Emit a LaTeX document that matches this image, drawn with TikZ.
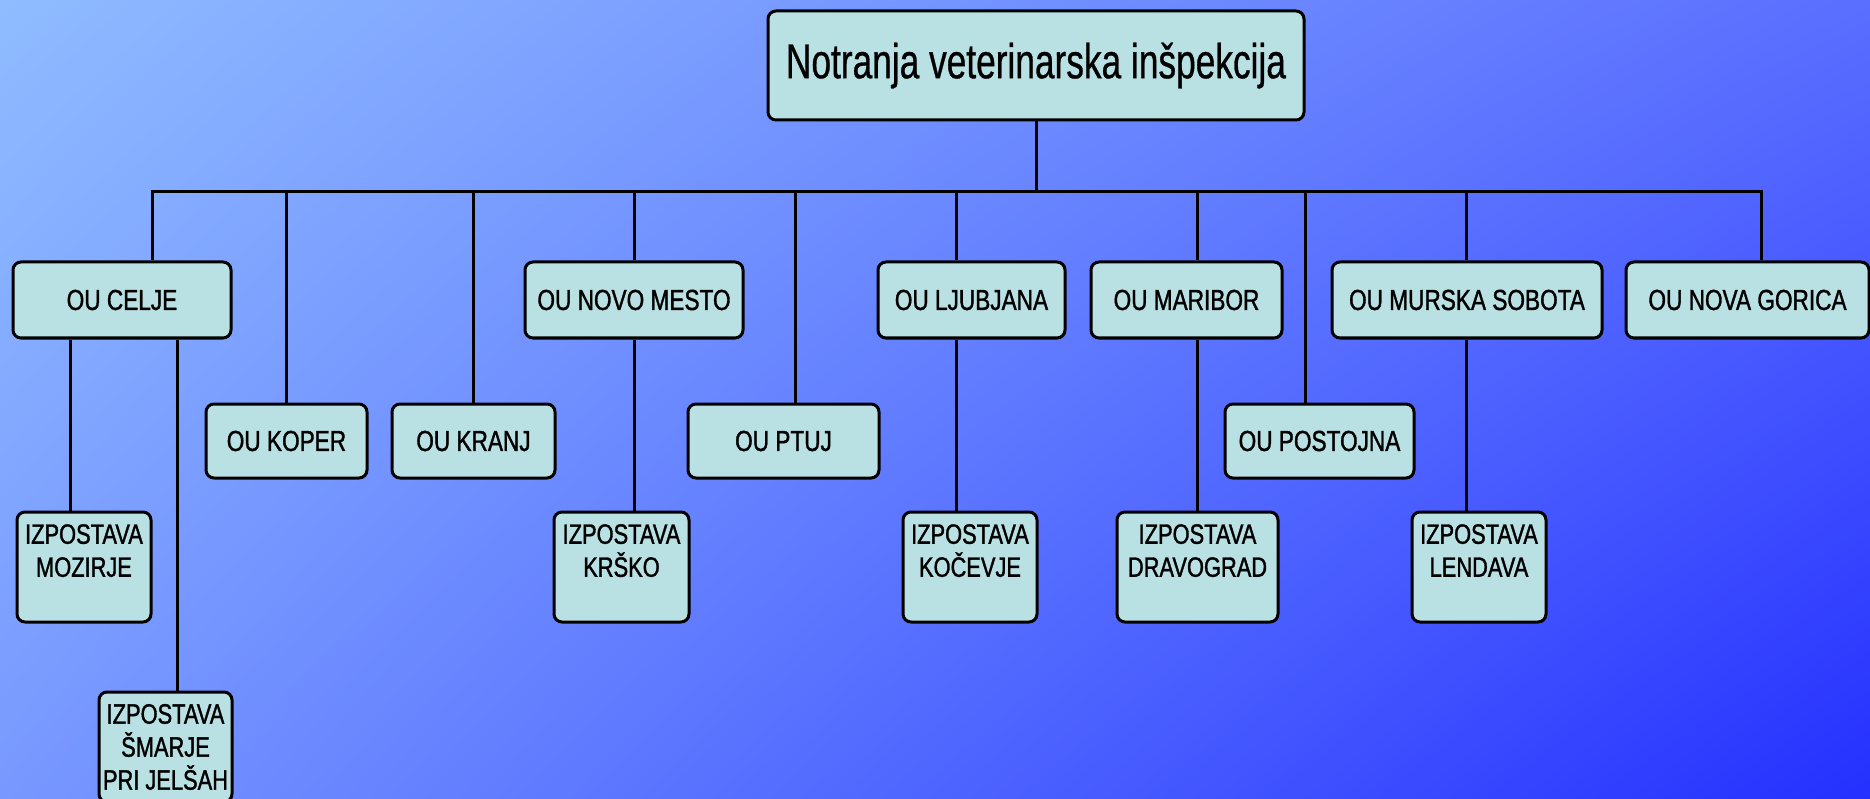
\documentclass[tikz,border=0pt]{standalone}
\usepackage{fontspec}
\usepackage{tikz}
\usetikzlibrary{shadings}
\newfontfamily\chartFont[FakeStretch=0.78, FakeBold=1.2]{Liberation Sans}
\newfontfamily\titleFont[FakeStretch=0.72, FakeBold=0.6]{Liberation Sans}
\definecolor{boxColor}{HTML}{B9E0E2}
\definecolor{skyUpperLeft}{RGB}{143,188,255}
\definecolor{skyUpperRight}{RGB}{90,110,255}
\definecolor{skyLowerLeft}{RGB}{120,152,255}
\definecolor{skyLowerRight}{RGB}{36,48,255}
\tikzstyle{chart} = [x = 1pt, y = -1pt]
\tikzstyle{unitStyle} = [draw=black, fill=boxColor, line width=3pt, rounded corners=8pt, inner sep=0pt, align=center, font=\chartFont\fontsize{29}{33}\selectfont]
\tikzstyle{branchStyle} = [unitStyle, font=\chartFont\fontsize{28}{33}\selectfont]
\tikzstyle{linkLine} = [color=black, line width=3pt]
\newcommand{\unitBox}[5]{\node [unitStyle, minimum width=#4pt, minimum height=76pt] (#1) at (#2,#3) {#5};}
\newcommand{\branchBox}[5]{\node [branchStyle, minimum width=#4pt, minimum height=110pt] (#1) at (#2,#3) {#5};}
\newcommand{\busDrop}[2]{\draw [linkLine] (busLine -| #1,0) -- (#2.north -| #1,0);}
\newcommand{\subDrop}[3]{\draw [linkLine] (#2.south -| #1,0) -- (#3.north -| #1,0);}

\begin{document}
\begin{tikzpicture}[chart]
  \useasboundingbox (0,0) rectangle (1870,799);
  \shade [upper left=skyUpperLeft, upper right=skyUpperRight, lower left=skyLowerLeft, lower right=skyLowerRight] (0,0) rectangle (1870,799);

  % top
  \node [unitStyle, font=\titleFont\fontsize{49}{58}\selectfont, minimum width=536pt, minimum height=109pt] (root) at (1036,65.5) {Notranja veterinarska inšpekcija};
  \coordinate (busLine) at (0,192);

  % first row
  \unitBox{celje}{122}{300}{218}{OU CELJE}
  \unitBox{novoMesto}{634}{300}{218}{OU NOVO MESTO}
  \unitBox{ljubljana}{971.5}{300}{187}{OU LJUBJANA}
  \unitBox{maribor}{1186.5}{300}{191}{OU MARIBOR}
  \unitBox{murskaSobota}{1467}{300}{270}{OU MURSKA SOBOTA}
  \unitBox{novaGorica}{1747.5}{300}{243}{OU NOVA GORICA}

  % second row
  \node [unitStyle, minimum width=161pt, minimum height=74pt] (koper) at (286.5,441) {OU KOPER};
  \node [unitStyle, minimum width=163pt, minimum height=74pt] (kranj) at (473.5,441) {OU KRANJ};
  \node [unitStyle, minimum width=191pt, minimum height=74pt] (ptuj) at (783.5,441) {OU PTUJ};
  \node [unitStyle, minimum width=189pt, minimum height=74pt] (postojna) at (1319.5,441) {OU POSTOJNA};

  % izpostave
  \branchBox{mozirje}{84}{567}{134}{IZPOSTAVA\\MOZIRJE\\~}
  \branchBox{krsko}{621.5}{567}{135}{IZPOSTAVA\\KRŠKO\\~}
  \branchBox{kocevje}{970}{567}{134}{IZPOSTAVA\\KOČEVJE\\~}
  \branchBox{dravograd}{1197.5}{567}{161}{IZPOSTAVA\\DRAVOGRAD\\~}
  \branchBox{lendava}{1479}{567}{134}{IZPOSTAVA\\LENDAVA\\~}
  \branchBox{smarje}{165.5}{747}{133}{IZPOSTAVA\\ŠMARJE\\PRI JELŠAH}

  % lines
  \draw [linkLine] (root.south) -- (root.south |- busLine);
  \draw [linkLine] (celje.north -| 152,0) -- (busLine -| 152,0) -- (busLine -| 1761,0) -- (novaGorica.north -| 1761,0);
  \busDrop{286}{koper}
  \busDrop{473}{kranj}
  \busDrop{634}{novoMesto}
  \busDrop{795}{ptuj}
  \busDrop{956}{ljubljana}
  \busDrop{1197}{maribor}
  \busDrop{1305}{postojna}
  \busDrop{1466}{murskaSobota}
  \subDrop{70}{celje}{mozirje}
  \subDrop{177}{celje}{smarje}
  \subDrop{634}{novoMesto}{krsko}
  \subDrop{956}{ljubljana}{kocevje}
  \subDrop{1197}{maribor}{dravograd}
  \subDrop{1466}{murskaSobota}{lendava}
\end{tikzpicture}
\end{document}
